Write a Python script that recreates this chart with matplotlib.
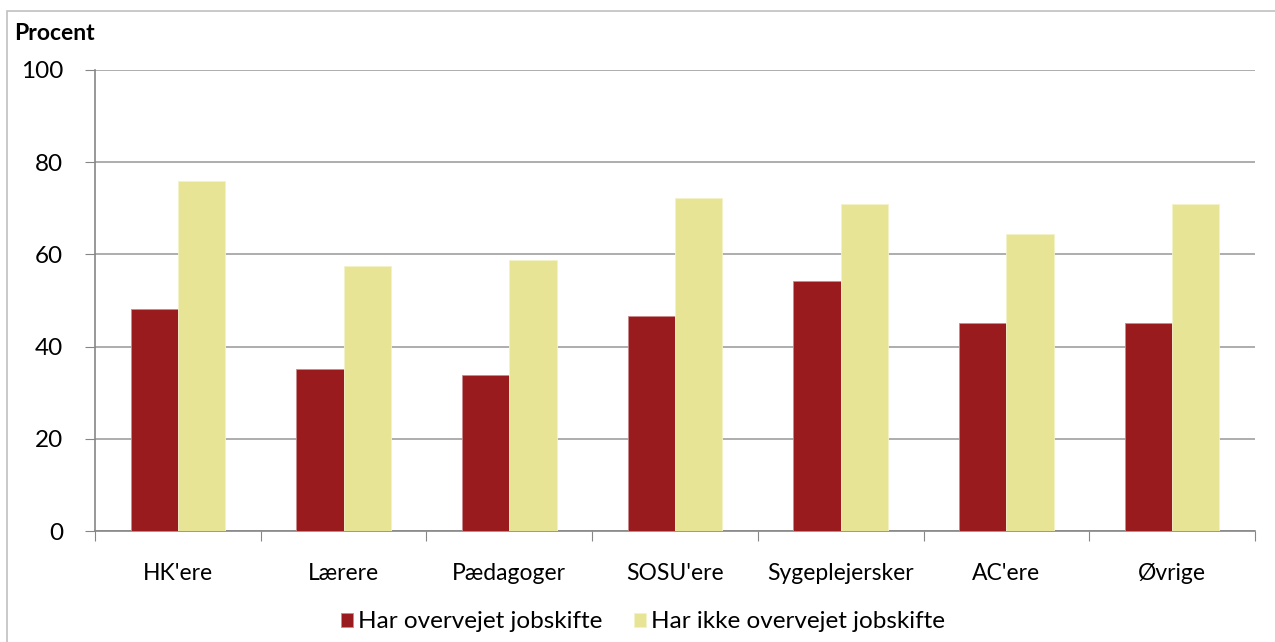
import numpy as np
import matplotlib.pyplot as plt
from matplotlib.patches import Rectangle

categories = ["HK'ere", "Lærere", "Pædagoger", "SOSU'ere", "Sygeplejersker", "AC'ere", "Øvrige"]
overvejet = [48.2, 35.1, 33.8, 46.6, 54.2, 45.1, 45.1]
ikke_overvejet = [75.9, 57.5, 58.8, 72.2, 70.9, 64.4, 70.9]
yticks = [0, 20, 40, 60, 80, 100]

plt.rcParams['font.family'] = ['Lato', 'DejaVu Sans']

fig = plt.figure(figsize=(12.75, 6.42), dpi=100)
# chart frame
fig.patches.append(Rectangle((7 / 1275, -0.01), 1.0, 1 - 11 / 642 + 0.01,
                             transform=fig.transFigure, fill=False,
                             edgecolor='#c0c0c0', linewidth=1.2))

ax = fig.add_axes([95 / 1275, 1 - 531 / 642, (1255 - 95) / 1275, (531 - 70) / 642])

x = np.arange(len(categories))
w = 0.2857
ax.bar(x - w / 2, overvejet, w, color='#991b1e', edgecolor='#c98a8c', linewidth=0.6,
       label='Har overvejet jobskifte', zorder=3)
ax.bar(x + w / 2, ikke_overvejet, w, color='#e7e495', edgecolor='#f4f2c8', linewidth=0.6,
       label='Har ikke overvejet jobskifte', zorder=3)

ax.set_xlim(-0.5, len(categories) - 0.5)
ax.set_ylim(0, 100)
ax.set_yticks(yticks)
ax.set_yticklabels([str(v) for v in yticks], fontsize=17.5)
ax.yaxis.grid(True, color='#a0a0a0', linewidth=1.2, zorder=0)
ax.set_axisbelow(True)

ax.set_xticks(np.arange(len(categories) + 1) - 0.5, minor=False)
ax.set_xticklabels([])
ax.set_xticks(x, minor=True)
ax.set_xticklabels(categories, minor=True, fontsize=16.5)
ax.tick_params(axis='x', which='major', length=7, direction='out', color='#868686')
ax.tick_params(axis='x', which='minor', length=0, pad=23)
ax.tick_params(axis='y', length=7, direction='out', color='#868686', pad=16)

for s in ['top', 'right']:
    ax.spines[s].set_visible(False)
for s in ['left', 'bottom']:
    ax.spines[s].set_color('#868686')
    ax.spines[s].set_linewidth(1.2)

fig.text(14 / 1275, 1 - 33 / 642, 'Procent', fontsize=16.5, fontweight='bold',
         ha='left', va='center')

fig.legend(loc='center', bbox_to_anchor=(643 / 1275, 1 - 622 / 642), ncol=2,
           frameon=False, fontsize=17.5, handlelength=0.5, handleheight=0.5,
           handletextpad=0.2, columnspacing=1.3)

fig.savefig('out.png', dpi=100)
